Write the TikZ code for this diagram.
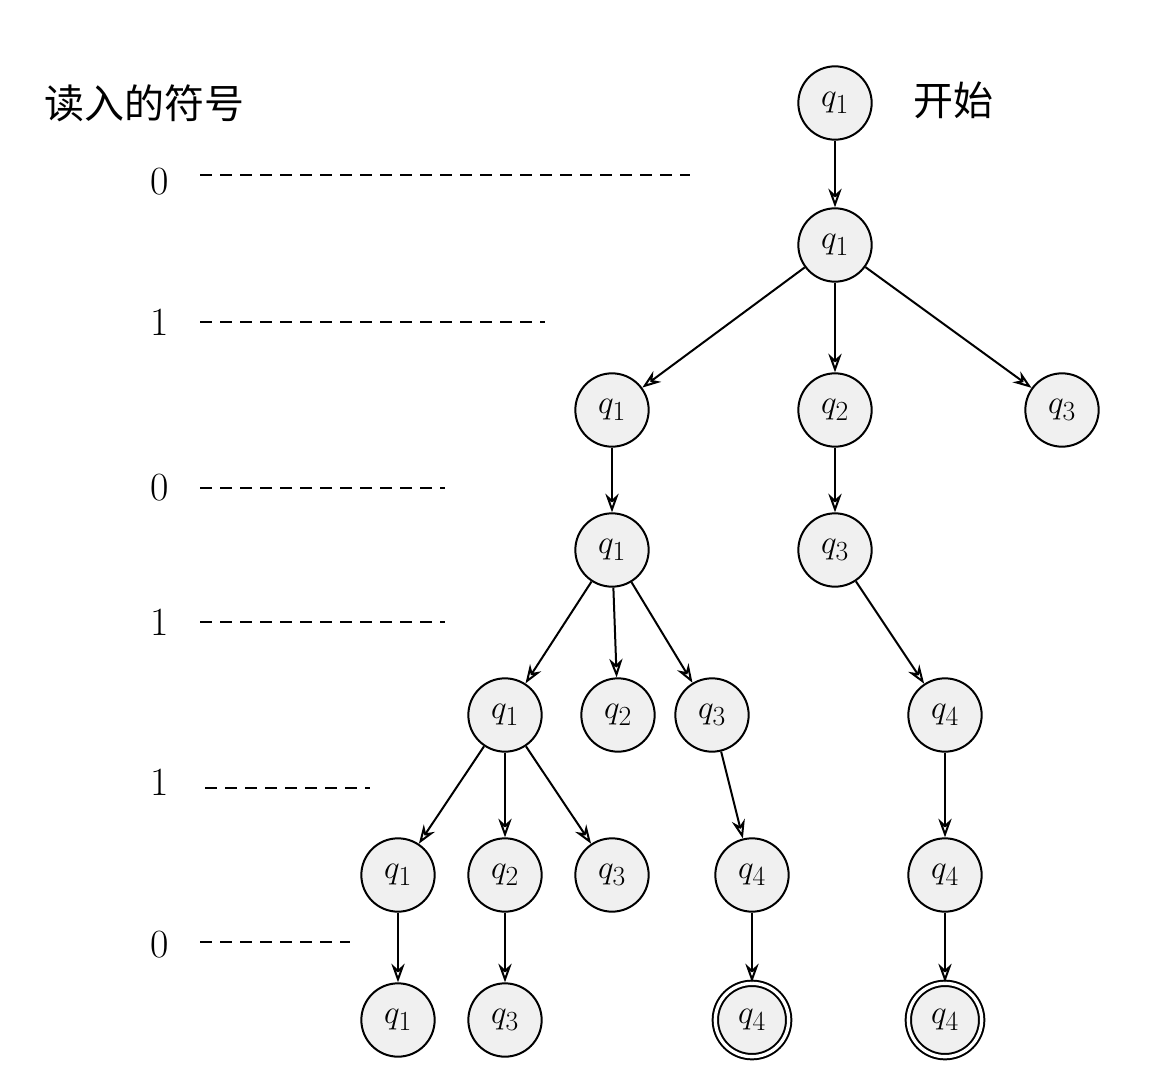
\documentclass[tikz,border=0pt]{standalone}
\usepackage{fontspec}
\newfontfamily\cjk{Noto Sans CJK SC}
\usetikzlibrary{arrows.meta}
\tikzset{every picture/.style={line width=1.5pt}}
\tikzset{
  state/.style={circle,draw,fill=gray!12,minimum size=55pt,inner sep=0pt,font=\fontsize{30}{34}\selectfont},
  accept/.style={state,double,double distance=2.5pt},
  trans/.style={-{Stealth[length=14pt,width=10pt,open]}},
  level/.style={dash pattern={on 9pt off 6pt}},
  digit/.style={font=\fontsize{30}{34}\selectfont}
}

\begin{document}
\begin{tikzpicture}[x=0.75pt,y=0.75pt,yscale=-1,xscale=1]
\useasboundingbox (0,0) rectangle (1150,1074);

% states, row by row
\node[state] (a0) at (835,103) {$q_1$};
\node[state] (b0) at (835,245) {$q_1$};
\node[state] (c0) at (612,410) {$q_1$};
\node[state] (c1) at (835,410) {$q_2$};
\node[state] (c2) at (1062,410) {$q_3$};
\node[state] (d0) at (612,550) {$q_1$};
\node[state] (d1) at (835,550) {$q_3$};
\node[state] (e0) at (505,715) {$q_1$};
\node[state] (e1) at (618,715) {$q_2$};
\node[state] (e2) at (712,715) {$q_3$};
\node[state] (e3) at (945,715) {$q_4$};
\node[state] (f0) at (398,875) {$q_1$};
\node[state] (f1) at (505,875) {$q_2$};
\node[state] (f2) at (612,875) {$q_3$};
\node[state] (f3) at (752,875) {$q_4$};
\node[state] (f4) at (945,875) {$q_4$};
\node[state] (g0) at (398,1020) {$q_1$};
\node[state] (g1) at (505,1020) {$q_3$};
\node[accept] (g2) at (752,1020) {$q_4$};
\node[accept] (g3) at (945,1020) {$q_4$};

% transitions
\draw[trans] (a0) -- (b0);
\draw[trans] (b0) -- (c0);
\draw[trans] (b0) -- (c1);
\draw[trans] (b0) -- (c2);
\draw[trans] (c0) -- (d0);
\draw[trans] (c1) -- (d1);
\draw[trans] (d0) -- (e0);
\draw[trans] (d0) -- (e1);
\draw[trans] (d0) -- (e2);
\draw[trans] (d1) -- (e3);
\draw[trans] (e0) -- (f0);
\draw[trans] (e0) -- (f1);
\draw[trans] (e0) -- (f2);
\draw[trans] (e2) -- (f3);
\draw[trans] (e3) -- (f4);
\draw[trans] (f0) -- (g0);
\draw[trans] (f1) -- (g1);
\draw[trans] (f3) -- (g2);
\draw[trans] (f4) -- (g3);

% labels
\node[digit,anchor=west] (start) at (908,100) {\cjk 开始};
\node[digit] (head) at (145,103) {\cjk 读入的符号};

% input symbols with dashed level lines
\node[digit] (s1) at (160,182) {0};
\node[digit] (s2) at (160,322) {1};
\node[digit] (s3) at (160,488) {0};
\node[digit] (s4) at (160,622) {1};
\node[digit] (s5) at (160,782) {1};
\node[digit] (s6) at (160,945) {0};
\draw[level] (200,175) -- (690,175);
\draw[level] (200,322) -- (545,322);
\draw[level] (200,488) -- (445,488);
\draw[level] (200,622) -- (445,622);
\draw[level] (205,788) -- (370,788);
\draw[level] (200,942) -- (350,942);

\end{tikzpicture}
\end{document}
